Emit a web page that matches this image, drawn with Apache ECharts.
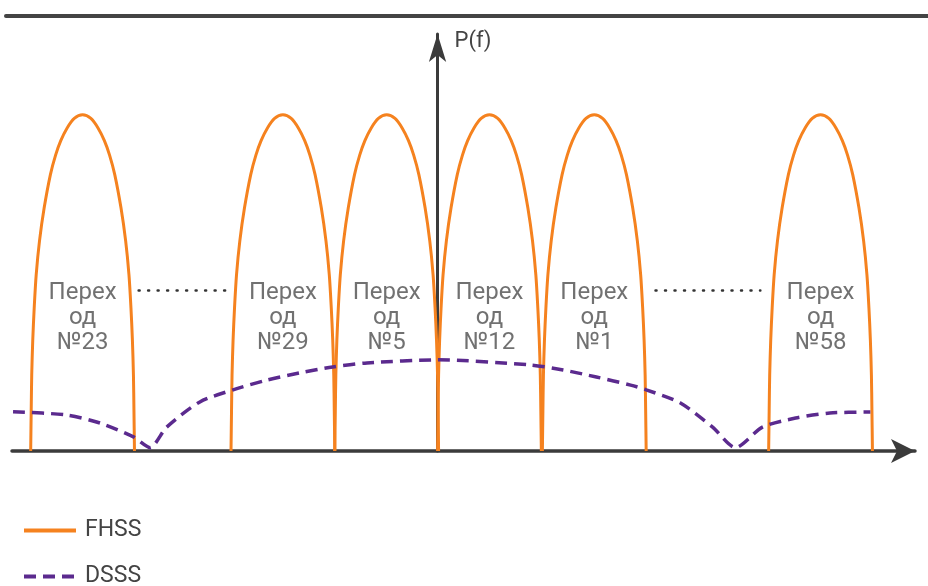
<!doctype html>
<html>
<head>
<meta charset="UTF-8">
<title>FHSS / DSSS</title>
<script src="https://cdn.jsdelivr.net/npm/echarts@6/dist/echarts.min.js"></script>
<style>
  html, body { margin: 0; padding: 0; background: #fff; }
  #main { width: 928px; height: 586px; }
</style>
</head>
<body>
<div id="main"></div>
<script>
// частотная ось: 1 единица = ширина одного канала, 0 = ось P(f)
var xMin = -4.1, xMax = 4.6;
var yMax = 1.24;

// центры каналов FHSS и их подписи
var hopCenters = [-3.42, -1.49, -0.49, 0.5, 1.51, 3.69];
var hopLabels = ['Перех\nод\n№23', 'Перех\nод\n№29', 'Перех\nод\n№5',
                 'Перех\nод\n№12', 'Перех\nод\n№1', 'Перех\nод\n№58'];
var labelLevel = 0.395;

// форма одного "горба": смещение от центра и уровень
var archOffsets = [-0.5, -0.495, -0.49, -0.48, -0.466, -0.447, -0.415, -0.37, -0.31, -0.26, -0.21, -0.15, -0.08, 0,
                   0.08, 0.15, 0.21, 0.26, 0.31, 0.37, 0.415, 0.447, 0.466, 0.48, 0.49, 0.495, 0.5];
var archLevels = [0, 0.12, 0.226, 0.33, 0.426, 0.524, 0.625, 0.723, 0.822, 0.88, 0.923, 0.96, 0.989, 1,
                  0.989, 0.96, 0.923, 0.88, 0.822, 0.723, 0.625, 0.524, 0.426, 0.33, 0.226, 0.12, 0];

// спектр DSSS
var dsssX = [-4.09, -3.57, -3.25, -2.93, -2.77, -2.61, -2.29, -1.97, -1.64, -1.33, -1.01, -0.68, 0,
             0.89, 1.21, 1.53, 1.86, 2.01, 2.34, 2.65, 2.87, 3.13, 3.45, 3.78, 4.17];
var dsssY = [0.117, 0.107, 0.083, 0.042, 0.01, 0.071, 0.146, 0.182, 0.211, 0.232, 0.25, 0.262, 0.271,
             0.256, 0.241, 0.22, 0.196, 0.182, 0.143, 0.071, 0.01, 0.071, 0.098, 0.113, 0.116];

// пунктир "......" между каналами
var gapDots = [[[-2.88, 0.477], [-2.02, 0.477]], [[2.1, 0.477], [3.11, 0.477]]];

var orange = '#f5821f';
var purple = '#5b2a8e';
var axisColor = '#3b3b3b';
var font = 'Roboto, "Liberation Sans", sans-serif';

var series = [];
hopCenters.forEach(function (c) {
    var pts = [];
    for (var i = 0; i < archOffsets.length; i++) {
        pts.push([c + archOffsets[i], archLevels[i]]);
    }
    series.push({
        name: 'FHSS', type: 'line', data: pts, smooth: 0.3,
        symbol: 'none', lineStyle: { color: orange, width: 3 },
        itemStyle: { color: orange }, z: 3
    });
});

var dsssData = dsssX.map(function (x, i) { return [x, dsssY[i]]; });
series.push({
    name: 'DSSS', type: 'line', data: dsssData, smooth: 0.25,
    symbol: 'none',
    lineStyle: { color: purple, width: 3.5, type: [12, 7] },
    itemStyle: { color: purple }, z: 4
});

gapDots.forEach(function (seg) {
    series.push({
        name: 'dots', type: 'line', data: seg, symbol: 'none', silent: true,
        lineStyle: { color: '#333', width: 2.5, type: [1, 8.5], cap: 'round' }
    });
});

series.push({
    name: 'labels', type: 'scatter', symbolSize: 0, silent: true,
    data: hopCenters.map(function (c, i) { return { value: [c, labelLevel], name: hopLabels[i] }; }),
    label: {
        show: true, position: 'inside', formatter: '{b}',
        fontFamily: font, fontSize: 24, lineHeight: 25, color: '#4d4d4d', align: 'center'
    }
});

var legendBase = {
    orient: 'vertical', left: 22, padding: 0,
    itemWidth: 52, itemHeight: 14,
    itemStyle: { opacity: 0 },
    lineStyle: { width: 4 },
    textStyle: { fontFamily: font, fontSize: 23, lineHeight: 22, color: '#444', padding: [0, 0, 0, 4] }
};

var chart = echarts.init(document.getElementById('main'));
chart.setOption({
    animation: false,
    legend: [
        Object.assign({}, legendBase, { top: 519, data: ['FHSS'] }),
        Object.assign({}, legendBase, { top: 565, data: ['DSSS'] })
    ],
    grid: [
        { left: 12, right: 13, top: 34, bottom: 135 },
        { left: 6, right: 0, top: 16, height: 10 }
    ],
    xAxis: [
        {
            type: 'value', gridIndex: 0, min: xMin, max: xMax,
            axisLine: { lineStyle: { color: axisColor, width: 3.5 }, symbol: ['none', 'arrow'], symbolSize: [18, 24] },
            axisTick: { show: false }, axisLabel: { show: false }, splitLine: { show: false }
        },
        {
            type: 'value', gridIndex: 1, position: 'top', min: 0, max: 1,
            axisLine: { onZero: false, lineStyle: { color: '#444', width: 4 } },
            axisTick: { show: false }, axisLabel: { show: false }, splitLine: { show: false }
        }
    ],
    yAxis: [
        {
            type: 'value', gridIndex: 0, min: 0, max: yMax,
            name: 'P(f)', nameLocation: 'end', nameGap: -7,
            nameTextStyle: { fontFamily: font, fontSize: 22, color: '#444', align: 'left', verticalAlign: 'middle', padding: [0, 0, 0, 17] },
            axisLine: { onZero: true, lineStyle: { color: axisColor, width: 3 }, symbol: ['none', 'arrow'], symbolSize: [13, 28] },
            axisTick: { show: false }, axisLabel: { show: false }, splitLine: { show: false }
        },
        { type: 'value', gridIndex: 1, show: false }
    ],
    series: series
});
</script>
</body>
</html>
